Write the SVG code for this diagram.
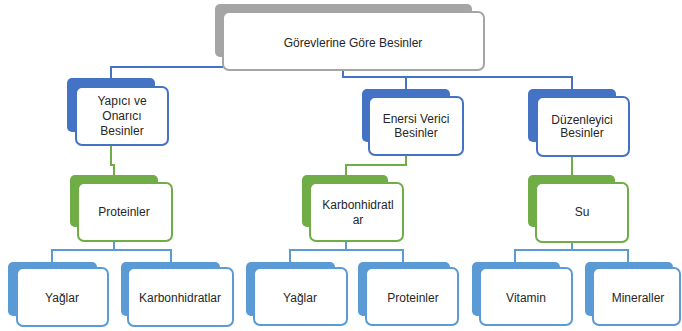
<svg xmlns="http://www.w3.org/2000/svg" width="682" height="331" viewBox="0 0 682 331">
<style>
.t{font-family:"Liberation Sans",Arial,sans-serif;font-size:12px;fill:#262626;text-anchor:middle}
.f{fill:#fff;stroke-width:2}
.bg{fill:#A5A5A5}.sg{stroke:#A5A5A5}
.bb{fill:#4472C4}.sb{stroke:#4472C4}
.bgr{fill:#70AD47}.sgr{stroke:#70AD47}
.bl{fill:#5B9BD5}.sl{stroke:#5B9BD5}
.c{fill:none;stroke-width:2}
</style>
<rect width="682" height="331" fill="#fff"/>
<g id="connectors">
<path class="c sb" d="M223,67H111V79"/>
<path class="c sb" d="M343,70V77H572V90M406,77V90"/>
<path class="c sgr" d="M111,145V165H114V176"/>
<path class="c sgr" d="M406,155V165H346V176"/>
<path class="c sgr" d="M572,156V176"/>
<path class="c sl" d="M114,241V250H52V263M114,250H171V263"/>
<path class="c sl" d="M346,241V250H290V263M346,250H403V263"/>
<path class="c sl" d="M572,242V250H515V263M572,250H628V263"/>
</g>
<g id="n-gorev">
<rect class="bg" x="215" y="4" width="257" height="53" rx="5"/>
<rect class="f sg" x="223" y="12" width="261" height="58" rx="6"/>
<text class="t" x="353" y="47">Görevlerine Göre Besinler</text>
</g>
<g id="n-yapici">
<rect class="bb" x="67" y="78" width="88" height="54" rx="5"/>
<rect class="f sb" x="76" y="87" width="92" height="58" rx="6"/>
<text class="t" x="122" y="105">Yapıcı ve</text>
<text class="t" x="122" y="120">Onarıcı</text>
<text class="t" x="122" y="135">Besinler</text>
</g>
<g id="n-enersi">
<rect class="bb" x="362" y="89" width="88" height="53" rx="5"/>
<rect class="f sb" x="369" y="97" width="94" height="58" rx="6"/>
<text class="t" x="416" y="123">Enersi Verici</text>
<text class="t" x="416" y="137">Besinler</text>
</g>
<g id="n-duzen">
<rect class="bb" x="528" y="89" width="88" height="53" rx="5"/>
<rect class="f sb" x="537" y="97" width="92" height="59" rx="6"/>
<text class="t" x="582" y="124">Düzenleyici</text>
<text class="t" x="582" y="137">Besinler</text>
</g>
<g id="n-proteinler">
<rect class="bgr" x="70" y="175" width="88" height="52" rx="5"/>
<rect class="f sgr" x="78" y="183" width="94" height="58" rx="6"/>
<text class="t" x="124" y="216">Proteinler</text>
</g>
<g id="n-karb">
<rect class="bgr" x="302" y="175" width="86" height="52" rx="5"/>
<rect class="f sgr" x="310" y="183" width="93" height="58" rx="6"/>
<text class="t" x="358" y="209">Karbonhidratl</text>
<text class="t" x="358" y="224">ar</text>
</g>
<g id="n-su">
<rect class="bgr" x="528" y="175" width="87" height="52" rx="5"/>
<rect class="f sgr" x="536" y="183" width="92" height="59" rx="6"/>
<text class="t" x="582" y="216">Su</text>
</g>
<g id="n-yaglar1">
<rect class="bl" x="8" y="262" width="89" height="54" rx="5"/>
<rect class="f sl" x="17" y="268" width="91" height="58" rx="6"/>
<text class="t" x="62" y="302">Yağlar</text>
</g>
<g id="n-karb2">
<rect class="bl" x="121" y="262" width="99" height="54" rx="5"/>
<rect class="f sl" x="128" y="268" width="105" height="58" rx="6"/>
<text class="t" x="180" y="302">Karbonhidratlar</text>
</g>
<g id="n-yaglar2">
<rect class="bl" x="246" y="262" width="89" height="54" rx="5"/>
<rect class="f sl" x="254" y="268" width="93" height="57" rx="6"/>
<text class="t" x="300" y="302">Yağlar</text>
</g>
<g id="n-proteinler2">
<rect class="bl" x="358" y="262" width="92" height="54" rx="5"/>
<rect class="f sl" x="366" y="268" width="92" height="57" rx="6"/>
<text class="t" x="413" y="302">Proteinler</text>
</g>
<g id="n-vitamin">
<rect class="bl" x="472" y="262" width="88" height="54" rx="5"/>
<rect class="f sl" x="480" y="268" width="92" height="57" rx="6"/>
<text class="t" x="526" y="302">Vitamin</text>
</g>
<g id="n-mineral">
<rect class="bl" x="585" y="262" width="88" height="54" rx="5"/>
<rect class="f sl" x="593" y="268" width="87" height="57" rx="6"/>
<text class="t" x="638" y="302">Mineraller</text>
</g>
</svg>
